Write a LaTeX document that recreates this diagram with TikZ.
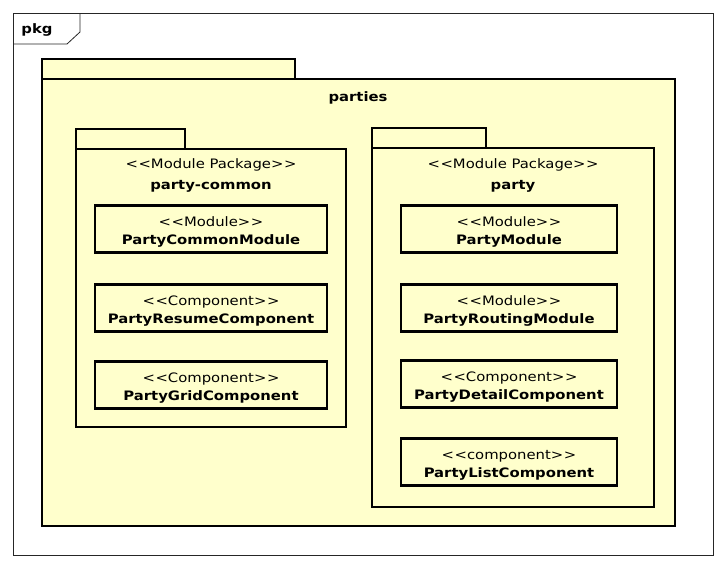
\documentclass[tikz,border=0pt]{standalone}
\usepackage{fontspec}
\setmainfont{DejaVu Sans}[FakeStretch=1.14]
\definecolor{pkgfill}{RGB}{255,255,204}
\tikzset{
  thick pkg/.style={draw=black, line width=2.8pt, fill=pkgfill},
  modbox/.style={draw=black, line width=2.8pt, fill=pkgfill, minimum width=232pt, minimum height=47pt, inner sep=0pt, align=center, font=\fontsize{13}{19.5}\selectfont},
  lbl/.style={inner sep=0pt, font=\fontsize{13}{15}\selectfont},
}
\newcommand{\stereo}[2]{\rule{0pt}{16pt}{#1}\\[-1pt]\textbf{#2}}
\newcommand{\LLt}{<\kern0.6pt<}
\newcommand{\GGt}{>\kern0.6pt>}
\begin{document}
\begin{tikzpicture}[x=1pt,y=-1pt]
\useasboundingbox (0,0) rectangle (726,568);
% outer frame
\draw[line width=0.8pt, draw=black!85] (13,13) rectangle (713,555);
\draw[line width=0.8pt, draw=black!85] (13,44) -- (67,44) -- (80,32) -- (80,13);
\node[lbl, font=\fontsize{13}{15}\selectfont\bfseries] (pkg) at (37,30) {pkg};
% parties
\draw[thick pkg] (42,59) rectangle (295,79);
\draw[thick pkg] (42,79) rectangle (675,526);
\node[lbl, font=\fontsize{13}{15}\selectfont\bfseries] (parties) at (358,98) {parties};
% party-common
\draw[thick pkg] (76,129) rectangle (185,149);
\draw[thick pkg] (76,149) rectangle (346,427);
\node[lbl] (pcster) at (211,165) {\LLt Module Package\GGt};
\node[lbl, font=\fontsize{13}{15}\selectfont\bfseries] (pcname) at (211,186) {party-common};
\node[modbox] (pcm) at (211,229) {\stereo{\LLt Module\GGt}{PartyCommonModule}};
\node[modbox] (prc) at (211,308) {\stereo{\LLt Component\GGt}{PartyResumeComponent}};
\node[modbox] (pgc) at (211,385) {\stereo{\LLt Component\GGt}{PartyGridComponent}};
% party
\draw[thick pkg] (372,128) rectangle (486,148);
\draw[thick pkg] (372,148) rectangle (654,507);
\node[lbl] (pster) at (513,165) {\LLt Module Package\GGt};
\node[lbl, font=\fontsize{13}{15}\selectfont\bfseries] (pname) at (513,186) {party};
\node[modbox, minimum width=216pt] (pm) at (509,229) {\stereo{\LLt Module\GGt}{PartyModule}};
\node[modbox, minimum width=216pt] (prm) at (509,308) {\stereo{\LLt Module\GGt}{PartyRoutingModule}};
\node[modbox, minimum width=216pt] (pdc) at (509,384) {\stereo{\LLt Component\GGt}{PartyDetailComponent}};
\node[modbox, minimum width=216pt] (plc) at (509,462) {\stereo{\LLt component\GGt}{PartyListComponent}};
\end{tikzpicture}
\end{document}
